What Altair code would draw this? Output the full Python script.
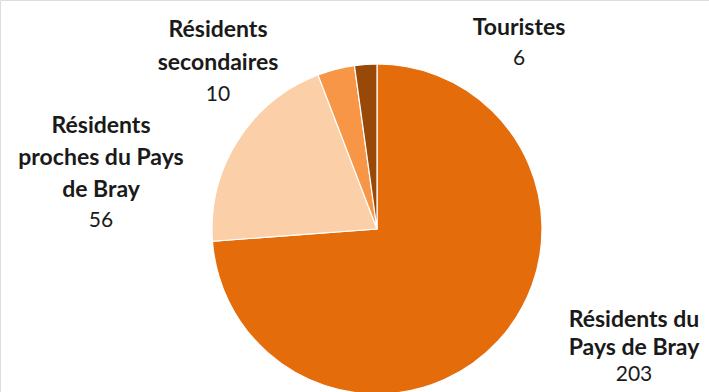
import altair as alt
import pandas as pd

categories = ["Résidents du Pays de Bray", "Résidents proches du Pays de Bray",
              "Résidents secondaires", "Touristes"]
values = [203, 56, 10, 6]
colors = ["#E46C0A", "#FBD0A9", "#F79646", "#984807"]

# label lines (name lines bold, value regular)
label_lines = {
    "Résidents du Pays de Bray": ["Résidents du", "Pays de Bray"],
    "Résidents proches du Pays de Bray": ["Résidents", "proches du Pays", "de Bray"],
    "Résidents secondaires": ["Résidents", "secondaires"],
    "Touristes": ["Touristes"],
}
# label anchor (center x, first line y, line spacing) — layout only
label_pos = {
    "Résidents du Pays de Bray": (634, 320, 28),
    "Résidents proches du Pays de Bray": (101, 126, 32),
    "Résidents secondaires": (218, 30, 33),
    "Touristes": (519, 28, 32),
}

df = pd.DataFrame({"cat": categories, "val": values, "idx": list(range(len(values)))})

pie = alt.Chart(df).mark_arc(outerRadius=165, stroke="white", strokeWidth=1.2).encode(
    theta=alt.Theta("val:Q", stack=True),
    order=alt.Order("idx:Q"),
    color=alt.Color("cat:N", scale=alt.Scale(domain=categories, range=colors), legend=None),
    x=alt.value(377),
    y=alt.value(229),
)

layers = [pie]
FONT = "Lato"
SIZE = 23
for cat, v in zip(categories, values):
    cx, y0, line = label_pos[cat]
    lines = label_lines[cat]
    for i, ln in enumerate(lines):
        layers.append(
            alt.Chart(pd.DataFrame({"t": [ln]})).mark_text(
                font=FONT, fontSize=SIZE, fontWeight="bold", color="#1a1a1a",
                align="center", baseline="middle"
            ).encode(text="t:N", x=alt.value(cx), y=alt.value(y0 + i * line))
        )
    layers.append(
        alt.Chart(pd.DataFrame({"t": [str(v)]})).mark_text(
            font=FONT, fontSize=SIZE - 2, color="#1a1a1a", align="center", baseline="middle"
        ).encode(text="t:N", x=alt.value(cx), y=alt.value(y0 + len(lines) * line - 1))
    )

chart = alt.layer(*layers).properties(
    width=709, height=392, autosize=alt.AutoSizeParams(type="none"), padding=0
).configure_view(stroke=None).configure(background="white")

chart.save("out.html", embed_options={"renderer": "svg", "actions": False})
